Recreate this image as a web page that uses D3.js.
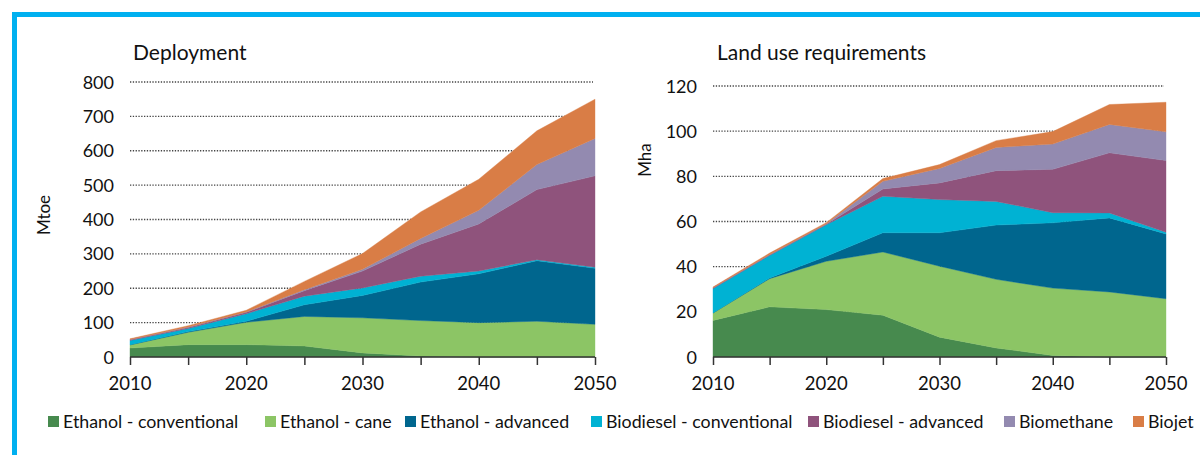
<!DOCTYPE html>
<html><head><meta charset="utf-8">
<script src="https://cdn.jsdelivr.net/npm/d3@7"></script>
<style>
html,body{margin:0;padding:0;background:#fff;}
svg{display:block;font-family:Lato,"Open Sans",sans-serif;}
</style></head>
<body>
<svg id="c" width="1200" height="455"></svg>
<script>
const years = [2010,2015,2020,2025,2030,2035,2040,2045,2050];
const seriesNames = ["Ethanol - conventional","Ethanol - cane","Ethanol - advanced","Biodiesel - conventional","Biodiesel - advanced","Biomethane","Biojet"];
const colors = ["#478a4e","#8cc565","#00668e","#00b2d3","#8f537c","#938ab0","#d97d46"];

// Deployment (Mtoe)
const depEthConv = [26,36,36,32,12,3,0,0,0];
const depEthCane = [9,36,65,86,102,103,100,104,95];
const depEthAdv  = [1,2,3,34,65,112,142,176,163];
const depBdConv  = [12,9,22,25,22,17,8,3,3];
const depBdAdv   = [2,3,4,16,49,93,137,204,266];
const depBiometh = [1,1,1,3,5,17,40,73,109];
const depBiojet  = [2,4,5,24,46,77,90,98,114];

// Land use requirements (Mha)
const landEthConv = [16.2,22.2,21,18.5,8.8,4,0.7,0,0];
const landEthCane = [3.3,12.5,21.4,28,31.4,30.4,29.8,28.8,25.8];
const landEthAdv  = [0,0.3,2.2,8.5,14.8,24,28.9,32.8,28.7];
const landBdConv  = [10.8,10,14,16.2,14.7,10.5,4.5,2.2,0.7];
const landBdAdv   = [0.2,0.2,0.2,3.2,7.4,13.6,19.2,26.6,31.8];
const landBiometh = [0.2,0.2,0.2,3.4,6.4,10.3,11.2,12.6,12.7];
const landBiojet  = [0.3,0.6,0.5,1.2,1.7,3,5.5,8.8,13.1];

const depTicks = [0,100,200,300,400,500,600,700,800];
const landTicks = [0,20,40,60,80,100,120];
const xTickLabels = [2010,2020,2030,2040,2050];

const svg = d3.select("#c");

// frame
svg.append("path").attr("d","M14.5,470 L14.5,14.5 L1210,14.5")
  .attr("fill","none").attr("stroke","#00b0f0").attr("stroke-width",5);

function drawPanel(opts){
  const {title, unit, arrays, ticks, yMax, x0, x1, y0, y1, titleX, unitX, unitY} = opts;
  const x = d3.scaleLinear().domain([2010,2050]).range([x0,x1]);
  const y = d3.scaleLinear().domain([0,yMax]).range([y0,y1]);
  const g = svg.append("g");
  const rows = years.map((yr,i)=>{const o={year:yr}; seriesNames.forEach((s,k)=>o[s]=arrays[k][i]); return o;});
  const stacked = d3.stack().keys(seriesNames)(rows);

  // gridlines
  g.selectAll(".grid").data(ticks.filter(t=>t>0)).join("line")
    .attr("x1",x0).attr("x2",x1-2).attr("y1",d=>y(d)).attr("y2",d=>y(d))
    .attr("stroke","#444").attr("stroke-width",1.3).attr("stroke-dasharray","1.3,1.5");

  const area = d3.area().x(d=>x(d.data.year)).y0(d=>y(d[0])).y1(d=>y(d[1]));
  g.selectAll(".a").data(stacked).join("path")
    .attr("d",area).attr("fill",(d,i)=>colors[i]).attr("stroke",(d,i)=>colors[i]).attr("stroke-width",0.4);

  // x axis
  const xa = d3.axisBottom(x).tickValues(years).tickSize(8).tickFormat("");
  const xg = g.append("g").attr("transform",`translate(0,${y0})`).call(xa);
  xg.select(".domain").attr("stroke","#333").attr("stroke-width",1.5).attr("d",`M${x0},0H${x1}`);
  xg.selectAll(".tick line").attr("stroke","#333").attr("stroke-width",1.5);
  g.selectAll(".xl").data(xTickLabels).join("text")
    .attr("x",d=>x(d)).attr("y",y0+33).attr("text-anchor","middle")
    .attr("font-size",18.5).attr("fill","#111").text(d=>d);

  // y labels
  g.selectAll(".yl").data(ticks).join("text")
    .attr("x",x0-16).attr("y",d=>y(d)+6.5).attr("text-anchor","end")
    .attr("font-size",18).attr("fill","#111").text(d=>d);

  g.append("text").attr("transform",`translate(${unitX},${unitY}) rotate(-90)`)
    .attr("text-anchor","middle").attr("font-size",17).attr("fill","#111").text(unit);
  g.append("text").attr("x",titleX).attr("y",60).attr("font-size",21).attr("fill","#111").text(title);
}

drawPanel({title:"Deployment", unit:"Mtoe",
  arrays:[depEthConv,depEthCane,depEthAdv,depBdConv,depBdAdv,depBiometh,depBiojet],
  ticks:depTicks, yMax:800, x0:130, x1:595, y0:357, y1:82, titleX:133, unitX:50, unitY:215});
drawPanel({title:"Land use requirements", unit:"Mha",
  arrays:[landEthConv,landEthCane,landEthAdv,landBdConv,landBdAdv,landBiometh,landBiojet],
  ticks:landTicks, yMax:120, x0:713, x1:1166, y0:357, y1:86, titleX:717, unitX:651, unitY:160});

// legend
const legX = [48,265,405,591,808,1004,1133];
const lg = svg.append("g");
seriesNames.forEach((s,i)=>{
  lg.append("rect").attr("x",legX[i]).attr("y",416).attr("width",11).attr("height",11).attr("fill",colors[i]);
  lg.append("text").attr("x",legX[i]+15).attr("y",428).attr("font-size",17.8).attr("fill","#111").text(s);
});
</script>
</body></html>
